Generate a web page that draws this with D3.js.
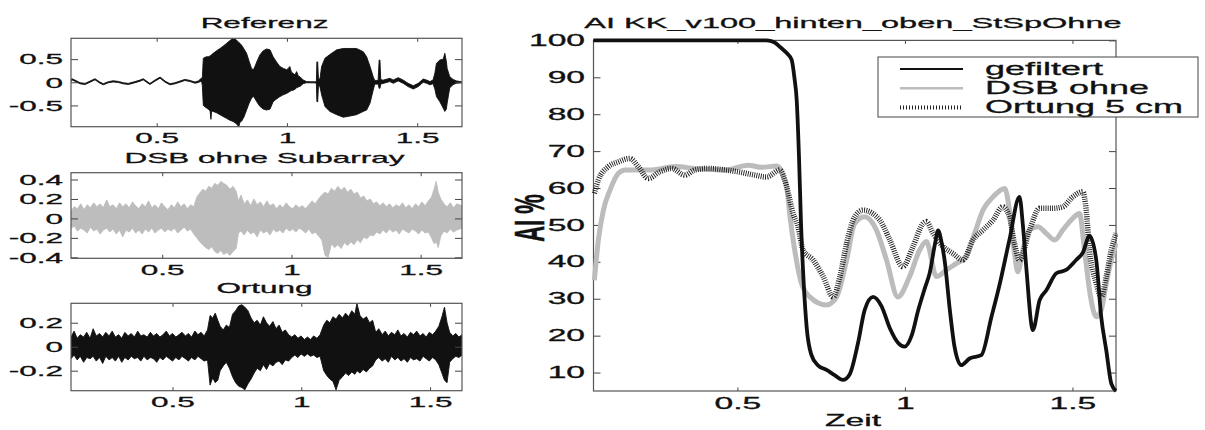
<!DOCTYPE html>
<html>
<head>
<meta charset="utf-8">
<title>AI KK_v100_hinten_oben_StSpOhne</title>
<style>
body { margin: 0; background: #fff; }
svg { display: block; font-family: "Liberation Sans", Arial, Helvetica, sans-serif; }
svg text { stroke: #111; stroke-width: 0.3px; }
</style>
</head>
<body>
<div id="chart"></div>
<script src="https://cdn.jsdelivr.net/npm/d3@7"></script>
<script>
// ---- small panels: signal envelopes (time, upper, lower) ----
var refT = [0.171,0.174,0.186,0.206,0.225,0.244,0.263,0.282,0.295,0.314, 0.333,0.353,0.372,0.391,0.410,0.436,0.448,0.461,0.474,0.493,
  0.513,0.532,0.551,0.570,0.589,0.608,0.628,0.647,0.660,0.672,
  0.675,0.679,0.690,0.698,0.705,0.708,0.711,0.717,0.730,0.743, 0.755,0.768,0.781,0.794,0.807,0.815,0.820,0.826,0.835,0.845,
  0.855,0.864,0.871,0.878,0.884,0.896,0.909,0.922,0.935,0.947, 0.960,0.973,0.986,0.999,1.005,1.011,1.017,1.024,1.031,1.037,
  1.044,1.050,1.062,1.075,1.090,1.105,1.113,1.115,1.118,1.121, 1.127,1.133,1.146,1.165,1.191,1.216,1.242,1.267,1.293,1.306,
  1.319,1.331,1.337,1.350,1.354,1.357,1.360,1.369,1.395,1.408, 1.427,1.446,1.465,1.485,1.504,1.523,1.536,1.549,1.561,1.568,
  1.574,1.587,1.600,1.606,1.612,1.615,1.625,1.638,1.651,1.670];
var refHi = [0.042,0.077,0.047,-0.01,-0.024,0.025,0.077,0.004,-0.031,0.012, 0.032,0.018,-0.01,-0.024,0.004,0.047,0.077,0.025,-0.024,0.047,
  0.112,0.025,-0.031,-0.01,0.025,0.062,0.04,0.004,0.03,0.09,
  0.08,0.52,0.55,0.55,0.57,0.58,0.60,0.625,0.68,0.73, 0.78,0.84,0.90,0.95,0.91,0.86,0.84,0.80,0.72,0.625,
  0.45,0.30,0.27,0.35,0.44,0.59,0.68,0.72,0.70,0.55, 0.44,0.34,0.30,0.27,0.30,0.34,0.22,0.19,0.16,0.23,
  0.13,0.12,0.05,0.015,0.012,0.01,0.012,0.44,0.44,0.06, 0.08,0.34,0.52,0.60,0.70,0.73,0.73,0.73,0.66,0.55,
  0.34,0.12,0.04,0.04,0.48,0.48,0.06,0.045,0.085,0.048, 0.10,0.048,-0.023,-0.075,-0.023,0.07,0.048,0.015,0.05,0.20,
  0.41,0.48,0.50,0.625,0.45,0.30,0.12,0.06,0.03,0.01];
var refLo = [0.018,0.053,0.023,-0.034,-0.048,0.001,0.053,-0.02,-0.055,-0.012, 0.008,-0.006,-0.034,-0.048,-0.02,0.023,0.053,0.001,-0.048,0.023,
  0.088,0.001,-0.055,-0.034,0.001,0.038,0.016,-0.02,-0.004,0.03,
  -0.06,-0.50,-0.55,-0.58,-0.62,-0.80,-0.62,-0.63,-0.66,-0.70, -0.74,-0.78,-0.82,-0.85,-0.90,-0.96,-0.86,-0.84,-0.75,-0.60,
  -0.45,-0.345,-0.30,-0.36,-0.42,-0.52,-0.58,-0.60,-0.58,-0.42, -0.36,-0.31,-0.27,-0.24,-0.22,-0.20,-0.18,-0.17,-0.15,-0.12,
  -0.10,-0.09,-0.03,-0.01,-0.012,-0.012,-0.02,-0.42,-0.42,-0.06, -0.10,-0.27,-0.525,-0.63,-0.70,-0.755,-0.73,-0.70,-0.63,-0.60,
  -0.45,-0.17,-0.04,-0.04,-0.13,-0.13,-0.04,-0.025,0.015,-0.022, 0.03,-0.022,-0.093,-0.145,-0.093,0.0,-0.022,-0.055,-0.03,-0.15,
  -0.31,-0.42,-0.56,-0.63,-0.58,-0.45,-0.12,-0.05,-0.02,-0.01];

var dsbSigT = [0.147,0.160,0.172,0.185,0.197,0.210,0.222,0.235,0.247,0.260, 0.272,0.285,0.297,0.310,0.322,0.335,0.347,0.360,0.372,0.385,
  0.397,0.410,0.422,0.435,0.447,0.460,0.472,0.485,0.497,0.510, 0.522,0.535,0.547,0.560,0.572,0.585,0.597,0.610,0.622,0.634,
  0.645,0.657,0.668,0.680,0.692,0.703,0.715,0.727,0.738,0.750, 0.762,0.774,0.786,0.795,0.805,0.817,0.830,0.842,0.855,0.867,
  0.880,0.892,0.905,0.917,0.930,0.942,0.955,0.967,0.980,0.992, 1.005,1.017,1.030,1.042,1.055,1.067,1.080,1.092,1.105,1.117,
  1.130,1.142,1.155,1.167,1.180,1.192,1.205,1.217,1.230,1.242, 1.255,1.267,1.280,1.292,1.305,1.317,1.330,1.342,1.355,1.367,
  1.380,1.392,1.405,1.417,1.430,1.442,1.455,1.467,1.480,1.492, 1.505,1.517,1.530,1.542,1.552,1.560,1.568,1.578,1.590,1.602,
  1.615,1.627,1.640,1.660];
var dsbSigHi = [0.08,0.12,0.10,0.15,0.09,0.14,0.11,0.16,0.12,0.15, 0.11,0.19,0.12,0.14,0.10,0.16,0.12,0.15,0.11,0.17,
  0.13,0.10,0.15,0.12,0.18,0.11,0.14,0.10,0.16,0.12, 0.09,0.14,0.11,0.17,0.12,0.15,0.10,0.14,0.12,0.22,
  0.26,0.30,0.28,0.33,0.31,0.36,0.34,0.38,0.36,0.34, 0.30,0.33,0.28,0.18,0.24,0.15,0.19,0.13,0.20,0.14,
  0.17,0.12,0.18,0.13,0.15,0.10,0.14,0.11,0.16,0.12, 0.10,0.14,0.11,0.13,0.10,0.14,0.18,0.15,0.20,0.24,
  0.27,0.25,0.31,0.28,0.33,0.29,0.32,0.27,0.30,0.25, 0.27,0.21,0.23,0.18,0.20,0.15,0.17,0.13,0.16,0.12,
  0.15,0.11,0.14,0.12,0.16,0.11,0.14,0.10,0.15,0.12, 0.17,0.13,0.18,0.22,0.30,0.38,0.27,0.20,0.15,0.12,
  0.16,0.11,0.15,0.13];
var dsbSigLo = [-0.10,-0.08,-0.13,-0.10,-0.12,-0.15,-0.09,-0.13,-0.11,-0.16, -0.12,-0.10,-0.14,-0.11,-0.16,-0.12,-0.19,-0.12,-0.14,-0.10,
  -0.15,-0.12,-0.16,-0.11,-0.14,-0.10,-0.15,-0.12,-0.10,-0.14, -0.11,-0.13,-0.10,-0.15,-0.12,-0.09,-0.13,-0.11,-0.16,-0.20,
  -0.24,-0.27,-0.30,-0.32,-0.29,-0.34,-0.36,-0.33,-0.37,-0.35, -0.38,-0.34,-0.31,-0.15,-0.13,-0.17,-0.12,-0.16,-0.14,-0.19,
  -0.12,-0.15,-0.13,-0.17,-0.11,-0.14,-0.12,-0.15,-0.10,-0.13, -0.11,-0.14,-0.10,-0.12,-0.15,-0.11,-0.16,-0.14,-0.18,-0.22,
  -0.38,-0.40,-0.26,-0.30,-0.27,-0.31,-0.25,-0.28,-0.24,-0.27, -0.22,-0.25,-0.19,-0.21,-0.17,-0.18,-0.14,-0.16,-0.12,-0.15,
  -0.11,-0.14,-0.12,-0.16,-0.11,-0.13,-0.15,-0.11,-0.13,-0.16, -0.12,-0.15,-0.14,-0.20,-0.26,-0.24,-0.30,-0.18,-0.13,-0.15,
  -0.11,-0.14,-0.12,-0.10];

var ortSigT = [0.106,0.118,0.130,0.142,0.155,0.167,0.180,0.192,0.204,0.217, 0.229,0.241,0.254,0.266,0.278,0.291,0.303,0.315,0.328,0.340,
  0.352,0.365,0.377,0.389,0.402,0.414,0.426,0.439,0.451,0.463, 0.476,0.488,0.500,0.513,0.525,0.537,0.550,0.562,0.574,0.587,
  0.599,0.611,0.623,0.636,0.646,0.656,0.666,0.676,0.685,0.697, 0.709,0.721,0.733,0.745,0.757,0.769,0.781,0.793,0.805,0.817,
  0.829,0.841,0.853,0.865,0.877,0.890,0.902,0.914,0.926,0.938, 0.951,0.963,0.975,0.987,0.999,1.012,1.024,1.036,1.048,1.061,
  1.073,1.087,1.099,1.111,1.123,1.135,1.147,1.160,1.172,1.184, 1.196,1.208,1.216,1.228,1.240,1.253,1.265,1.277,1.289,1.301,
  1.314,1.326,1.338,1.350,1.363,1.375,1.387,1.399,1.412,1.424, 1.436,1.448,1.461,1.473,1.485,1.497,1.510,1.522,1.534,1.546,
  1.556,1.566,1.576,1.588,1.600,1.612,1.624];
var ortSigHi = [0.08,0.13,0.07,0.10,0.08,0.12,0.07,0.15,0.09,0.11, 0.08,0.12,0.09,0.13,0.08,0.10,0.07,0.12,0.09,0.11,
  0.08,0.13,0.09,0.10,0.08,0.12,0.09,0.11,0.08,0.10, 0.13,0.09,0.11,0.08,0.10,0.12,0.09,0.11,0.08,0.13,
  0.10,0.12,0.09,0.14,0.26,0.24,0.28,0.22,0.17,0.14, 0.18,0.16,0.27,0.30,0.34,0.35,0.33,0.30,0.24,0.20,
  0.22,0.18,0.25,0.20,0.17,0.21,0.15,0.18,0.12,0.14, 0.10,0.08,0.10,0.07,0.09,0.06,0.08,0.06,0.09,0.07,
  0.10,0.18,0.22,0.20,0.25,0.23,0.27,0.24,0.28,0.25, 0.30,0.27,0.36,0.26,0.23,0.25,0.20,0.22,0.12,0.15,
  0.10,0.13,0.09,0.12,0.10,0.14,0.09,0.11,0.08,0.12, 0.10,0.13,0.09,0.11,0.08,0.12,0.10,0.13,0.17,0.25,
  0.33,0.20,0.12,0.09,0.11,0.08,0.10];
var ortSigLo = [-0.10,-0.07,-0.11,-0.08,-0.13,-0.09,-0.10,-0.08,-0.12,-0.09, -0.14,-0.08,-0.11,-0.09,-0.12,-0.08,-0.13,-0.09,-0.11,-0.08,
  -0.10,-0.09,-0.12,-0.08,-0.11,-0.09,-0.10,-0.13,-0.09,-0.11, -0.08,-0.10,-0.12,-0.09,-0.11,-0.08,-0.10,-0.12,-0.09,-0.11,
  -0.08,-0.10,-0.12,-0.11,-0.32,-0.26,-0.30,-0.28,-0.20,-0.16, -0.13,-0.18,-0.25,-0.30,-0.33,-0.34,-0.36,-0.31,-0.27,-0.22,
  -0.18,-0.20,-0.15,-0.19,-0.14,-0.16,-0.13,-0.12,-0.15,-0.11, -0.12,-0.09,-0.07,-0.09,-0.06,-0.08,-0.06,-0.08,-0.07,-0.09,
  -0.08,-0.20,-0.24,-0.27,-0.29,-0.36,-0.28,-0.25,-0.22,-0.24, -0.21,-0.23,-0.20,-0.22,-0.19,-0.21,-0.18,-0.16,-0.11,-0.09,
  -0.12,-0.10,-0.13,-0.08,-0.11,-0.09,-0.12,-0.10,-0.13,-0.09, -0.11,-0.10,-0.12,-0.08,-0.10,-0.12,-0.09,-0.11,-0.15,-0.22,
  -0.28,-0.30,-0.13,-0.10,-0.08,-0.09,-0.07];

var sigXTicks = [0.5, 1, 1.5];
var refYTicks = [-0.5, 0, 0.5];
var dsbYTicks = [-0.4, -0.2, 0, 0.2, 0.4];
var ortYTicks = [-0.2, 0, 0.2];

// ---- big panel: AI % over Zeit ----
var filtT = [0.07,0.587,0.61,0.63,0.648,0.662,0.670,0.677,0.684,0.690, 0.698,0.707,0.72,0.74,0.766,0.79,0.815,0.835,0.86,0.88,
  0.905,0.93,0.955,0.98,0.999,1.02,1.04,1.06,1.074,1.09, 1.099,1.11,1.119,1.134,1.148,1.168,1.193,1.228,1.258,1.283,
  1.312,1.342,1.352,1.362,1.382,1.402,1.422,1.452,1.481,1.511, 1.531,1.551,1.571,1.586,1.601,1.616,1.63];
var filtV = [100,100,99.5,98,96.5,94.7,90,83.8,68,50, 34,22,15,12,10.7,9.3,8.0,9.5,18,27,
  30.5,28,22,18,17,20,27,33,37,45, 48.5,45,40,27,17,12,13.8,14.7,25,34,
  46,57.6,50,38.7,21.5,29.6,32.3,36.9,37.8,40.5, 42.5,47,40.5,25,16,7,5];
var dsbT = [0.073,0.085,0.100,0.120,0.145,0.165,0.244,0.314,0.373,0.463, 0.532,0.572,0.617,0.627,0.637,0.647,0.657,0.671,0.691,0.716,
  0.766,0.796,0.826,0.850,0.880,0.915,0.945,0.979,1.014,1.044, 1.064,1.094,1.124,1.154,1.183,1.208,1.233,1.263,1.298,1.312,
  1.327,1.337,1.352,1.372,1.397,1.422,1.447,1.471,1.501,1.521, 1.536,1.551,1.571,1.586,1.601,1.616,1.63];
var dsbV = [35,45.9,54,59.5,64,64.9,64.9,65.8,65.3,64.9, 66.2,65.6,66,65.3,63.1,60.4,52.2,43.2,34.2,30.5,
  28.3,30.5,40.5,50.4,52.2,48.6,40.5,30.5,36,43.2, 45.5,36,37.8,39.6,41.4,47.7,54,57.6,59.9,54,
  42.3,37.3,43.2,48.6,49.5,47.7,45.9,48.6,51.8,53.1, 43.2,32.3,25.1,27,34.2,40.5,45];
var ortT = [0.073,0.085,0.115,0.145,0.179,0.204,0.234,0.269,0.304,0.343, 0.373,0.413,0.463,0.502,0.552,0.587,0.627,0.647,0.666,0.681,
  0.696,0.726,0.756,0.786,0.806,0.826,0.850,0.875,0.925,0.955, 0.994,1.024,1.054,1.064,1.084,1.114,1.143,1.173,1.203,1.233,
  1.263,1.292,1.312,1.327,1.342,1.372,1.402,1.442,1.471,1.501, 1.531,1.541,1.551,1.571,1.586,1.601,1.616,1.63];
var ortV = [58.6,62.2,65.8,67.1,68,65.8,62.6,64.4,65.3,63.5, 64.9,65.3,64.9,64.4,63.5,63,64.9,60.4,53.2,49.5,
  43.2,40.5,36,30.5,36,45,52.2,54,51.3,45.9, 38.7,44.1,50.4,50.9,47.7,44.1,42.3,40.5,45.9,48.6,
  51.3,54.9,52.2,45,40.5,48.6,54.5,54.5,54.9,57.6, 59,54,43.2,34.2,30.5,36,43.2,47.7];

var aiXTicks = [0.5, 1, 1.5];
var aiYTicks = [10, 20, 30, 40, 50, 60, 70, 80, 90, 100];
var legendNames = ["gefiltert", "DSB ohne", "Ortung 5 cm"];

var SX = 2.1;   // the whole figure is stretched horizontally
var W = 1205, H = 430;
var fmt = function(d) { return String(d); };

var svg = d3.select("#chart").append("svg")
  .attr("width", W)
  .attr("height", H);

function stretchText(g, x, y, txt, size, anchor, sx) {
  return g.append("text")
    .attr("transform", "translate(" + x + "," + y + ") scale(" + (sx || SX) + ",1)")
    .attr("text-anchor", anchor || "middle")
    .attr("fill", "#111")
    .style("font-size", size + "px")
    .text(txt);
}

// box with inward ticks on all four sides, labels on left and bottom
function boxAxes(g, x, y, w, h, xt, yt, fs, pad) {
  var put = function(ax, tx, ty) {
    var a = g.append("g").attr("transform", "translate(" + tx + "," + ty + ")")
      .style("color", "#444").call(ax);
    a.select(".domain").remove();
    a.selectAll("text").style("font-size", fs + "px").attr("fill", "#111");
    return a;
  };
  var b = put(d3.axisBottom(x).tickValues(xt).tickSizeInner(-3.5).tickSizeOuter(0).tickPadding(pad.x).tickFormat(fmt), 0, h);
  b.selectAll("text").attr("transform", "scale(" + SX + ",1)");
  put(d3.axisTop(x).tickValues(xt).tickSizeInner(-3.5).tickSizeOuter(0).tickFormat(""), 0, 0);
  var l = put(d3.axisLeft(y).tickValues(yt).tickSizeInner(-7).tickSizeOuter(0).tickFormat(fmt), 0, 0);
  l.selectAll("text").attr("x", -pad.y / SX).attr("transform", "scale(" + SX + ",1)");
  put(d3.axisRight(y).tickValues(yt).tickSizeInner(-7).tickSizeOuter(0).tickFormat(""), w, 0);
  g.append("rect").attr("width", w).attr("height", h)
    .attr("fill", "none").attr("stroke", "#555").attr("stroke-width", 1.2);
}

// ---- three signal panels ----
var panels = [
  { title: "Referenz", top: 38.3, bottom: 126.7, xd: [0.171, 1.672], yd: [-0.96, 0.95], yt: refYTicks,
    t: refT, hi: refHi, lo: refLo, color: "#111" },
  { title: "DSB ohne Subarray", top: 172.7, bottom: 258.3, xd: [0.147, 1.66], yd: [-0.41, 0.47], yt: dsbYTicks,
    t: dsbSigT, hi: dsbSigHi, lo: dsbSigLo, color: "#bdbdbd" },
  { title: "Ortung", top: 303.3, bottom: 390.7, xd: [0.106, 1.624], yd: [-0.367, 0.362], yt: ortYTicks,
    t: ortSigT, hi: ortSigHi, lo: ortSigLo, color: "#111" }
];
var pLeft = 71, pRight = 462;

panels.forEach(function(p, i) {
  var w = pRight - pLeft, h = p.bottom - p.top;
  var g = svg.append("g").attr("transform", "translate(" + pLeft + "," + p.top + ")");
  var x = d3.scaleLinear().domain(p.xd).range([0, w]);
  var y = d3.scaleLinear().domain(p.yd).range([h, 0]);

  g.append("clipPath").attr("id", "clip" + i)
    .append("rect").attr("width", w).attr("height", h);

  var rows = p.t.map(function(t, k) { return { t: t, hi: p.hi[k], lo: p.lo[k] }; });
  var area = d3.area()
    .x(function(d) { return x(d.t); })
    .y0(function(d) { return y(d.lo); })
    .y1(function(d) { return y(d.hi); });

  g.append("path").datum(rows)
    .attr("clip-path", "url(#clip" + i + ")")
    .attr("d", area)
    .attr("fill", p.color)
    .attr("stroke", p.color)
    .attr("stroke-width", 0.9)
    .attr("stroke-linejoin", "round");

  boxAxes(g, x, y, w, h, sigXTicks, p.yt, 15, { x: 6, y: 8 });
  stretchText(g, w / 2 - 2, -10, p.title, 15);
});

// ---- AI % panel ----
var aL = 593.5, aT = 40.4, aR = 1116, aB = 391;
var aw = aR - aL, ah = aB - aT;
var ga = svg.append("g").attr("transform", "translate(" + aL + "," + aT + ")");
var ax = d3.scaleLinear().domain([0.0705, 1.63]).range([0, aw]);
var ay = d3.scaleLinear().domain([5, 100]).range([ah, 0]);

ga.append("clipPath").attr("id", "clipAI")
  .append("rect").attr("x", -2).attr("y", -3).attr("width", aw + 4).attr("height", ah + 5);

boxAxes(ga, ax, ay, aw, ah, aiXTicks, aiYTicks, 16, { x: 7, y: 8.5 });

var line = d3.line()
  .x(function(d) { return ax(d.t); })
  .y(function(d) { return ay(d.v); })
  .curve(d3.curveMonotoneX);
function rowsOf(ts, vs) { return ts.map(function(t, k) { return { t: t, v: vs[k] }; }); }

var lines = ga.append("g").attr("clip-path", "url(#clipAI)");
lines.append("path").datum(rowsOf(dsbT, dsbV)).attr("d", line)
  .attr("fill", "none").attr("stroke", "#bcbcbc").attr("stroke-width", 5);
lines.append("path").datum(rowsOf(ortT, ortV)).attr("d", line)
  .attr("fill", "none").attr("stroke", "#1a1a1a").attr("stroke-width", 5.5)
  .attr("stroke-dasharray", "0.9 1.3");
lines.append("path").datum(rowsOf(filtT, filtV)).attr("d", line)
  .attr("fill", "none").attr("stroke", "#111").attr("stroke-width", 3.8)
  .attr("stroke-linejoin", "round");

stretchText(svg, 853, 28, "AI KK_v100_hinten_oben_StSpOhne", 15.5);
stretchText(svg, 853, 426, "Zeit", 16);
svg.append("text")
  .attr("transform", "translate(544,218) scale(1.9,1) rotate(-90)")
  .attr("text-anchor", "middle")
  .attr("fill", "#111")
  .style("font-size", "22px")
  .style("font-weight", "bold")
  .text("AI %");

// legend
var lg = svg.append("g").attr("transform", "translate(878,57)");
lg.append("rect").attr("width", 320).attr("height", 60)
  .attr("fill", "#fff").attr("stroke", "#444").attr("stroke-width", 1);
var legStyles = [
  { stroke: "#111", width: 2, dash: null },
  { stroke: "#bcbcbc", width: 2.5, dash: null },
  { stroke: "#222", width: 4, dash: "1 2" }
];
legendNames.forEach(function(name, i) {
  var yy = 12 + i * 19.2;
  lg.append("line").attr("x1", 22).attr("x2", 85).attr("y1", yy).attr("y2", yy)
    .attr("stroke", legStyles[i].stroke).attr("stroke-width", legStyles[i].width)
    .attr("stroke-dasharray", legStyles[i].dash);
  stretchText(lg, 107, yy + 6, name, 18, "start", 2.0);
});
</script>
</body>
</html>
